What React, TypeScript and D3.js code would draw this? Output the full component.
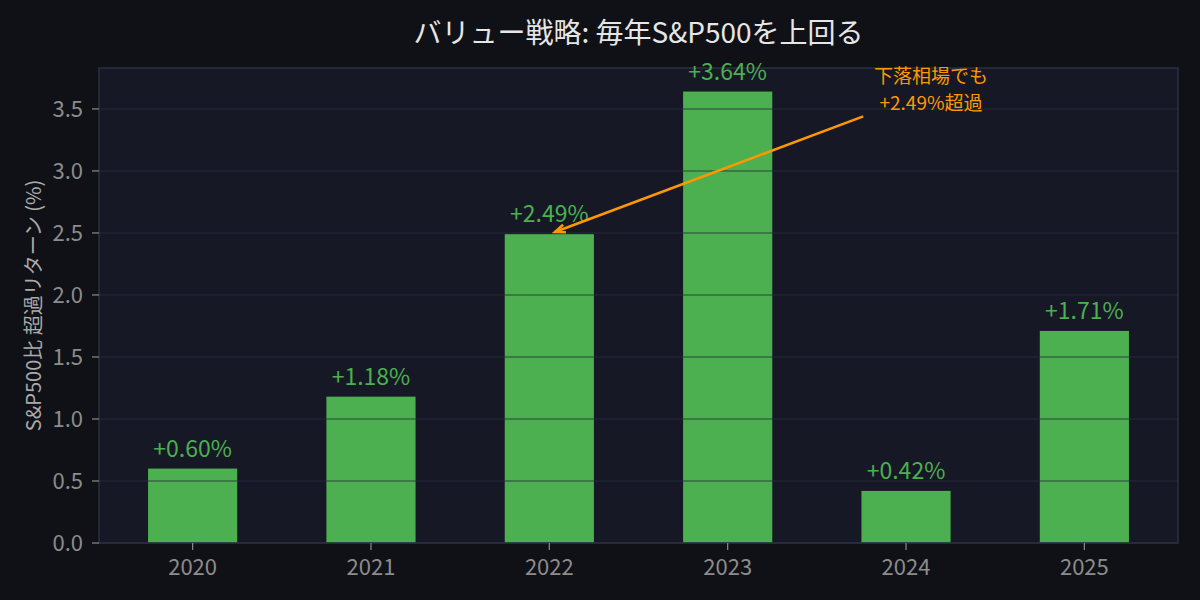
import React from "react";
import * as d3 from "d3";

const years = ["2020", "2021", "2022", "2023", "2024", "2025"];
const excess = [0.6, 1.18, 2.49, 3.64, 0.42, 1.71];
const yTicks = [0, 0.5, 1.0, 1.5, 2.0, 2.5, 3.0, 3.5];
const titleText = "バリュー戦略: 毎年S&P500を上回る";
const yLabel = "S&P500比 超過リターン (%)";
const annotLines = ["下落相場でも", "+2.49%超過"];
const annotTarget = { i: 2, v: 2.49 };
const annotTail = { i: 3.76, v: 3.44 };
const annotText = { i: 4.14, v: 3.71 };

const W = 1200, H = 600;
const M = { left: 99, right: 22, top: 68, bottom: 57 };
const FONT = "'Noto Sans CJK JP', 'Noto Sans', sans-serif";

export default function App() {
  const x = d3.scaleLinear().domain([-0.525, years.length - 1 + 0.525]).range([M.left, W - M.right]);
  const y = d3.scaleLinear().domain([0, 3.83]).range([H - M.bottom, M.top]);
  const bw = x(0.5) - x(0);
  const tx = x(annotTail.i), ty = y(annotTail.v);
  const hx0 = x(annotTarget.i), hy0 = y(annotTarget.v);
  const ang = Math.atan2(ty - hy0, tx - hx0);
  const hx = hx0 + 6 * Math.cos(ang), hy = hy0 + 6 * Math.sin(ang);
  const ah = 11, aw = 0.38;
  const a1 = [hx + ah * Math.cos(ang + aw), hy + ah * Math.sin(ang + aw)];
  const a2 = [hx + ah * Math.cos(ang - aw), hy + ah * Math.sin(ang - aw)];
  return (
    <svg width={W} height={H} style={{ position: "absolute", left: 0, top: 0, display: "block" }} fontFamily={FONT}>
      <rect x={0} y={0} width={W} height={H} fill="#101116" />
      <rect x={M.left} y={M.top} width={W - M.left - M.right} height={H - M.top - M.bottom} fill="#161925" />
      {excess.map((v, i) => (
        <rect key={i} x={x(i) - bw / 2} y={y(v)} width={bw} height={y(0) - y(v)} fill="#4caf50" />
      ))}
      {yTicks.map((t) => (
        <line key={t} x1={M.left} x2={W - M.right} y1={y(t)} y2={y(t)} stroke="#2a2e3e" strokeOpacity={0.55} strokeWidth={1.6} />
      ))}
      <rect x={M.left} y={M.top} width={W - M.left - M.right} height={H - M.top - M.bottom} fill="none" stroke="#2c2f40" strokeWidth={1.5} />
      {yTicks.map((t) => (
        <g key={t}>
          <line x1={M.left - 7} x2={M.left} y1={y(t)} y2={y(t)} stroke="#8a8a8a" strokeWidth={1.2} />
          <text x={M.left - 16} y={y(t)} dy="0.36em" textAnchor="end" fontSize={22} fill="#8c8c8c">{t.toFixed(1)}</text>
        </g>
      ))}
      {years.map((yr, i) => (
        <g key={yr}>
          <line x1={x(i)} x2={x(i)} y1={y(0)} y2={y(0) + 7} stroke="#8a8a8a" strokeWidth={1.2} />
          <text x={x(i)} y={y(0) + 32} textAnchor="middle" fontSize={22} fill="#8c8c8c">{yr}</text>
        </g>
      ))}
      {excess.map((v, i) => (
        <text key={i} x={x(i)} y={y(v) - 12} textAnchor="middle" fontSize={23} fill="#4caf50">{`+${v.toFixed(2)}%`}</text>
      ))}
      <text transform={`translate(41,${(M.top + H - M.bottom) / 2}) rotate(-90)`} textAnchor="middle" fontSize={20} fill="#aaaaaa">{yLabel}</text>
      <text x={(M.left + W - M.right) / 2} y={43} textAnchor="middle" fontSize={28} fill="#e6e6e6">{titleText}</text>
      <line x1={tx} y1={ty} x2={hx} y2={hy} stroke="#ff9800" strokeWidth={2.6} />
      <polyline points={`${a1[0]},${a1[1]} ${hx},${hy} ${a2[0]},${a2[1]}`} fill="none" stroke="#ff9800" strokeWidth={2.6} />
      <text x={x(annotText.i)} y={y(annotText.v)} textAnchor="middle" fontSize={19} fill="#ff9800">
        {annotLines.map((l, k) => (
          <tspan key={k} x={x(annotText.i)} dy={k === 0 ? 0 : 27.6}>{l}</tspan>
        ))}
      </text>
    </svg>
  );
}
